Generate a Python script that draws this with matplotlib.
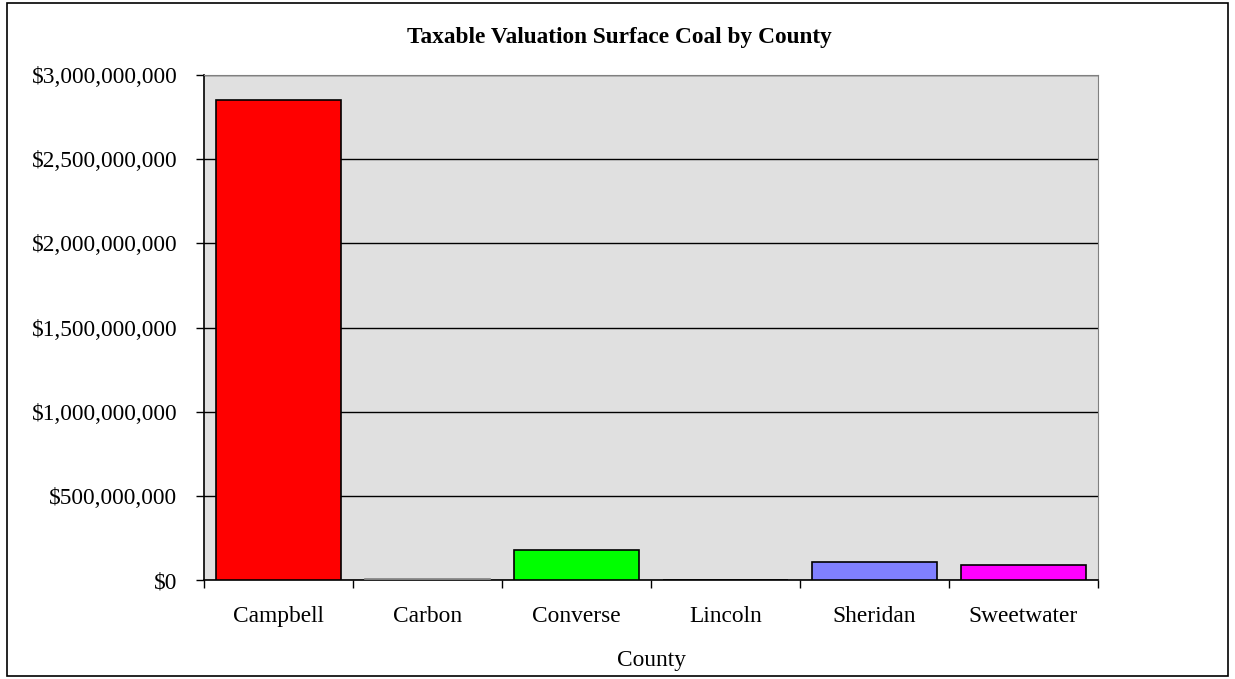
import matplotlib
matplotlib.use("Agg")
import matplotlib.pyplot as plt
from matplotlib.ticker import FuncFormatter, MultipleLocator, FixedLocator
from matplotlib.patches import Rectangle

counties = ["Campbell", "Carbon", "Converse", "Lincoln", "Sheridan", "Sweetwater"]
values = [2851000000, 4000000, 176000000, 0, 109000000, 89000000]
colors = ["#FF0000", "#808080", "#00FF00", "#000080", "#8080FF", "#FF00FF"]
edges = ["black", "#808080", "black", "black", "black", "black"]

plt.rcParams['font.family'] = ['Liberation Serif', 'DejaVu Serif']
FS = 16.8

fig = plt.figure(figsize=(12.35, 6.79), dpi=100)
ax = fig.add_axes([204/1235, 1-580/679, (1098-204)/1235, (580-75)/679])
ax.set_facecolor("#E0E0E0")

x = list(range(len(counties)))
ax.bar(x, values, width=0.84, color=colors, edgecolor=edges, linewidth=1.2, zorder=3)

ax.set_xlim(-0.5, len(counties) - 0.5)
ax.set_ylim(0, 3000000000)
ax.yaxis.set_major_locator(MultipleLocator(500000000))
ax.yaxis.set_major_formatter(FuncFormatter(lambda v, p: "${:,.0f}".format(v)))
ax.grid(axis="y", color="black", linewidth=1, zorder=1)
ax.set_axisbelow(True)

ax.set_xticks(x)
ax.set_xticklabels(counties, fontsize=FS)
ax.tick_params(axis="x", which="major", length=0, pad=19)
ax.xaxis.set_minor_locator(FixedLocator([i - 0.5 for i in range(len(counties) + 1)]))
ax.tick_params(axis="x", which="minor", length=5.8, direction="out", width=1)
ax.tick_params(axis="y", length=5.8, direction="out", width=1, labelsize=FS, pad=13.5)

for s in ["top", "right"]:
    ax.spines[s].set_color("#808080")
for s in ["left", "bottom"]:
    ax.spines[s].set_color("black")
    ax.spines[s].set_linewidth(1.2)

ax.set_xlabel("County", fontsize=FS, labelpad=16)
fig.text(619.5/1235, 1-43/679, "Taxable Valuation Surface Coal by County",
         ha="center", va="baseline", fontsize=FS, fontweight="bold")

fig.patches.append(Rectangle((7/1235, 1-676/679), (1228-7)/1235, (676-3)/679,
                             transform=fig.transFigure, fill=False,
                             edgecolor="black", linewidth=1.2))

fig.savefig("out.png", dpi=100)
